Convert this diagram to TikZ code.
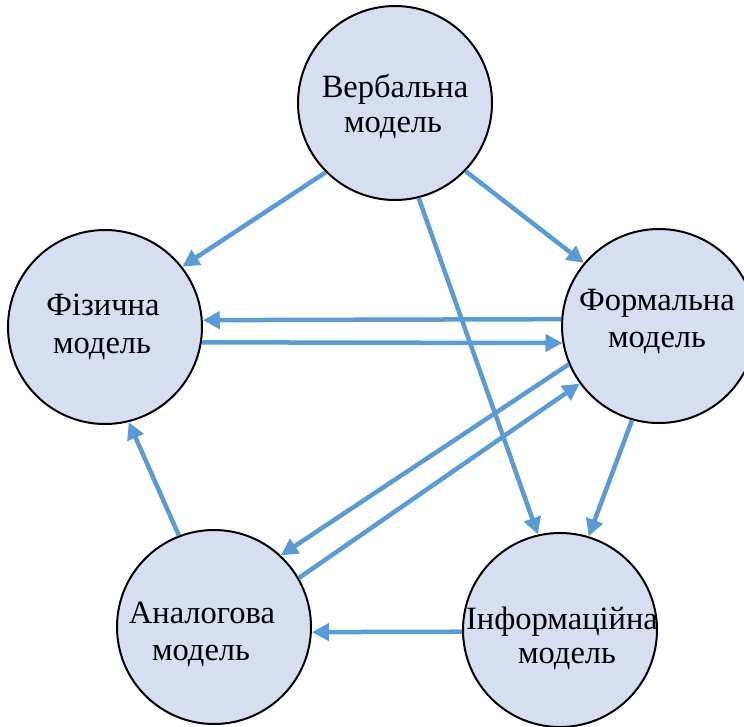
\documentclass[tikz,border=0pt]{standalone}
\usepackage{fontspec}
\setmainfont{Liberation Serif}
\usetikzlibrary{arrows.meta}
\definecolor{arrowblue}{RGB}{91,155,213}
\definecolor{circfill}{RGB}{214,222,240}
\begin{document}
\begin{tikzpicture}[x=1pt,y=-1pt,
  model/.style={circle,draw=black,line width=2pt,fill=circfill,minimum size=194pt,inner sep=0pt},
  lbl/.style={anchor=base,inner sep=0pt,font=\fontsize{32.5}{38}\selectfont},
  conn/.style={draw=arrowblue,line width=4.5pt,-{Triangle[length=17pt,width=17pt]}}]
\useasboundingbox (0,0) rectangle (744,726);
\node[model] (v) at (395,103) {};
\node[model] (f) at (105,327) {};
\node[model] (m) at (659,326) {};
\node[model] (a) at (214,627) {};
\node[model] (i) at (560,630) {};
\node[lbl] (v1) at (395,97) {Вербальна};
\node[lbl] (v2) at (393,132) {модель};
\node[lbl] (f1) at (103,315) {Фізична};
\node[lbl] (f2) at (102,353) {модель};
\node[lbl] (m1) at (657,310) {Формальна};
\node[lbl] (m2) at (657,347) {модель};
\node[lbl] (a1) at (202,623) {Аналогова};
\node[lbl] (a2) at (201,660) {модель};
\node[lbl] (i1) at (562,629) {Інформаційна};
\node[lbl] (i2) at (567,663) {модель};
\draw[conn] (v.225) -- (f.38);
\draw[conn] (v.316) -- (m.140);
\draw[conn] (v.284.5) -- (i.103.3);
\draw[conn] (m.176.3) -- (f.4);
\draw[conn] (f.-9.4) -- (m.190);
\draw[conn] (m.203.7) -- (a.47.4);
\draw[conn] (a.30.8) -- (m.216.9);
\draw[conn] (m.254.5) -- (i.73.8);
\draw[conn] (i.181.2) -- (a.-3);
\draw[conn] (a.111.8) -- (f.284.5);
\end{tikzpicture}
\end{document}
